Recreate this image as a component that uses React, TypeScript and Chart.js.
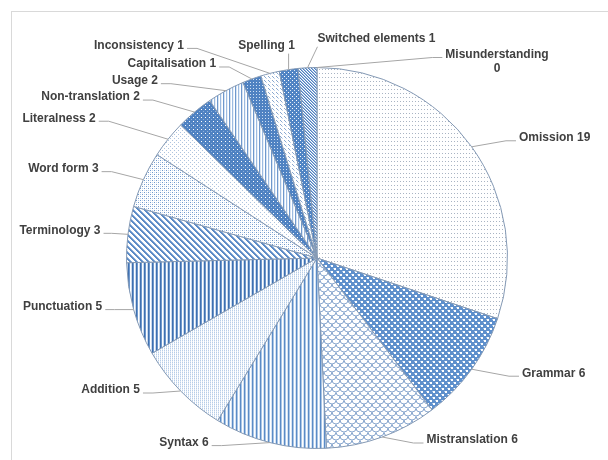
import { useEffect, useRef } from 'react';
import { Chart, registerables } from 'chart.js';

Chart.register(...registerables);

// ---------- data ----------
const categories = [
  'Omission', 'Grammar', 'Mistranslation', 'Syntax', 'Addition', 'Punctuation',
  'Terminology', 'Word form', 'Literalness', 'Non-translation', 'Usage',
  'Capitalisation', 'Inconsistency', 'Spelling', 'Switched elements', 'Misunderstanding',
];
const errorCounts = [19, 6, 6, 6, 5, 5, 3, 3, 2, 2, 2, 1, 1, 1, 1, 0];

// ---------- label layout (offset of label centre from the slice's outer mid-point) ----------
const labelOffsets: [number, number][] = [
  [83, -9], [82, 4], [90, 3], [-86, 0], [-70, -1], [-71, -3], [-68, -4], [-80, -11],
  [-109, -21], [-104, -15], [-91, -10], [-80, -15], [-131, -28], [-22, -24], [69, -29], [180, -6],
];
const labelAttach = ['side', 'side', 'side', 'side', 'side', 'side', 'side', 'side',
  'side', 'side', 'side', 'side', 'side', 'bottom', 'bottom', 'side'];
const labelWrap = [false, false, false, false, false, false, false, false,
  false, false, false, false, false, false, false, true];

// ---------- pattern fills ----------
type Painter = (g: CanvasRenderingContext2D) => void;
function tile(ctx: CanvasRenderingContext2D, w: number, h: number, bg: string, paint: Painter) {
  const c = document.createElement('canvas');
  c.width = w; c.height = h;
  const g = c.getContext('2d')!;
  g.fillStyle = bg; g.fillRect(0, 0, w, h);
  paint(g);
  return ctx.createPattern(c, 'repeat')!;
}
const px = (g: CanvasRenderingContext2D, col: string, x: number, y: number, w = 1, h = 1) => {
  g.fillStyle = col; g.fillRect(x, y, w, h);
};
const cols = (g: CanvasRenderingContext2D, list: string[], h: number) => {
  list.forEach((c, i) => px(g, c, i, 0, 1, h));
};
const diag = (g: CanvasRenderingContext2D, n: number, list: string[]) => {
  for (let k = 0; k < n; k++) list.forEach((c, j) => px(g, c, (k + j) % n, k));
};

function makePatterns(ctx: CanvasRenderingContext2D) {
  return [
    // Omission
    tile(ctx, 3, 4, '#ffffff', g => { px(g, '#a9b4c3', 1, 1); }),
    // Grammar
    tile(ctx, 6, 6, '#5f90cc', g => {
      px(g, '#ffffff', 1, 1, 2, 2); px(g, '#ffffff', 4, 4, 2, 2);
      px(g, '#a6c4e8', 0, 1); px(g, '#a6c4e8', 3, 4);
    }),
    // Mistranslation
    tile(ctx, 8, 8, '#ffffff', g => {
      g.strokeStyle = '#8aa8cf'; g.lineWidth = 1;
      g.beginPath(); g.arc(4, 0, 4, 0, Math.PI); g.stroke();
      g.beginPath(); g.arc(0, 4, 4, 0, Math.PI); g.stroke();
      g.beginPath(); g.arc(8, 4, 4, 0, Math.PI); g.stroke();
    }),
    // Syntax
    tile(ctx, 4, 1, '#ffffff', g => cols(g, ['#5b8bc6', '#aac6e6', '#ffffff', '#d5e3f3'], 1)),
    // Addition
    tile(ctx, 2, 2, '#ffffff', g => { px(g, '#b7cde8', 0, 0); px(g, '#dfe9f5', 0, 1); }),
    // Punctuation
    tile(ctx, 4, 1, '#ffffff', g => cols(g, ['#3f70b0', '#6f98cc', '#ffffff', '#c8d9ee'], 1)),
    // Terminology
    tile(ctx, 6, 6, '#ffffff', g => diag(g, 6, ['#5c8bc6', '#5c8bc6', '#8fb0da'])),
    // Word form
    tile(ctx, 4, 4, '#ffffff', g => {
      px(g, '#6f98cc', 0, 0); px(g, '#6f98cc', 2, 2);
      px(g, '#c3d6ee', 2, 0); px(g, '#c3d6ee', 0, 2);
    }),
    // Literalness
    tile(ctx, 4, 4, '#ffffff', g => { px(g, '#aec4df', 0, 0); px(g, '#aec4df', 2, 2); }),
    // Non-translation
    tile(ctx, 4, 4, '#4f82c2', g => { px(g, '#ffffff', 1, 1); px(g, '#8fb0da', 3, 3); }),
    // Usage
    tile(ctx, 6, 1, '#ffffff', g => cols(g, ['#ffffff', '#6f98cc', '#d6e4f4', '#ffffff', '#9dbbe0', '#e8f0f9'], 1)),
    // Capitalisation
    tile(ctx, 3, 3, '#4f82c2', g => { px(g, '#cfe0f4', 1, 1); }),
    // Inconsistency
    tile(ctx, 4, 4, '#ffffff', g => { px(g, '#8aa8cf', 0, 0); px(g, '#8aa8cf', 1, 1); px(g, '#c3d6ee', 2, 2); }),
    // Spelling
    tile(ctx, 4, 4, '#5084c4', g => { px(g, '#ffffff', 0, 0); px(g, '#dbe7f5', 2, 2); }),
    // Switched elements
    tile(ctx, 3, 3, '#ffffff', g => diag(g, 3, ['#4f80bf', '#9dbbe0'])),
    // Misunderstanding
    tile(ctx, 2, 2, '#ffffff', g => { px(g, '#4f80bf', 0, 0); }),
  ];
}

// ---------- label plugin ----------
const FONT = 'bold 12px "Liberation Sans", Arial, sans-serif';
const labelPlugin = {
  id: 'pieLabels',
  afterDatasetsDraw(chart: any) {
    const ctx: CanvasRenderingContext2D = chart.ctx;
    const meta = chart.getDatasetMeta(0);
    ctx.save();
    ctx.font = FONT;
    ctx.textAlign = 'center';
    ctx.textBaseline = 'middle';
    meta.data.forEach((arc: any, i: number) => {
      const { x, y, startAngle, endAngle, outerRadius } =
        arc.getProps(['x', 'y', 'startAngle', 'endAngle', 'outerRadius'], true);
      const mid = (startAngle + endAngle) / 2;
      const ex = x + Math.cos(mid) * outerRadius;
      const ey = y + Math.sin(mid) * outerRadius;
      const [dx, dy] = labelOffsets[i];
      const cx = ex + dx;
      const cy = ey + dy;
      const lines = labelWrap[i]
        ? [categories[i], String(errorCounts[i])]
        : [`${categories[i]} ${errorCounts[i]}`];
      const lh = 14;
      const w = Math.max(...lines.map(l => ctx.measureText(l).width));
      const top = cy - (lines.length * lh) / 2;
      const firstCy = top + lh / 2;

      // leader line
      ctx.strokeStyle = '#a6a6a6';
      ctx.lineWidth = 1;
      ctx.beginPath();
      if (labelAttach[i] === 'bottom') {
        const ax = Math.min(Math.max(ex, cx - w / 2), cx + w / 2);
        const ay = cy + lines.length * lh / 2 + 1;
        ctx.moveTo(ax, ay);
        ctx.lineTo(ex, ey);
      } else {
        const right = cx > ex;
        const ax = right ? cx - w / 2 - 3 : cx + w / 2 + 3;
        const ay = firstCy + 3;
        const h = Math.min(10, Math.abs(ax - ex) / 3);
        const hx = right ? ax - h : ax + h;
        ctx.moveTo(ax, ay);
        ctx.lineTo(hx, ay);
        ctx.lineTo(ex, ey);
      }
      ctx.stroke();

      // text
      ctx.fillStyle = '#404040';
      lines.forEach((l, k) => ctx.fillText(l, cx, top + lh / 2 + k * lh));
    });
    ctx.restore();
  },
};

export default function App() {
  const ref = useRef<HTMLCanvasElement>(null);
  useEffect(() => {
    const canvas = ref.current!;
    const ctx = canvas.getContext('2d')!;
    const patterns = makePatterns(ctx);
    const chart = new Chart(canvas, {
      type: 'pie',
      data: {
        labels: categories,
        datasets: [{
          data: errorCounts,
          backgroundColor: patterns as any,
          borderColor: '#8499b4',
          borderWidth: 1,
        }],
      },
      options: {
        responsive: false,
        animation: false,
        events: [],
        layout: { padding: { left: 126, right: 100, top: 67, bottom: 11 } },
        plugins: {
          legend: { display: false },
          tooltip: { enabled: false },
        },
      },
      plugins: [labelPlugin],
    });
    return () => chart.destroy();
  }, []);

  return (
    <div style={{ position: 'fixed', left: 0, top: 0, width: 608, height: 460, overflow: 'hidden', background: '#ffffff' }}>
      <div style={{ position: 'absolute', left: 11, top: 11, width: 1000, height: 1, background: '#d9d9d9' }} />
      <div style={{ position: 'absolute', left: 11, top: 11, width: 1, height: 1000, background: '#d9d9d9' }} />
      <canvas ref={ref} width={608} height={460} style={{ position: 'absolute', left: 0, top: 0 }} />
    </div>
  );
}
